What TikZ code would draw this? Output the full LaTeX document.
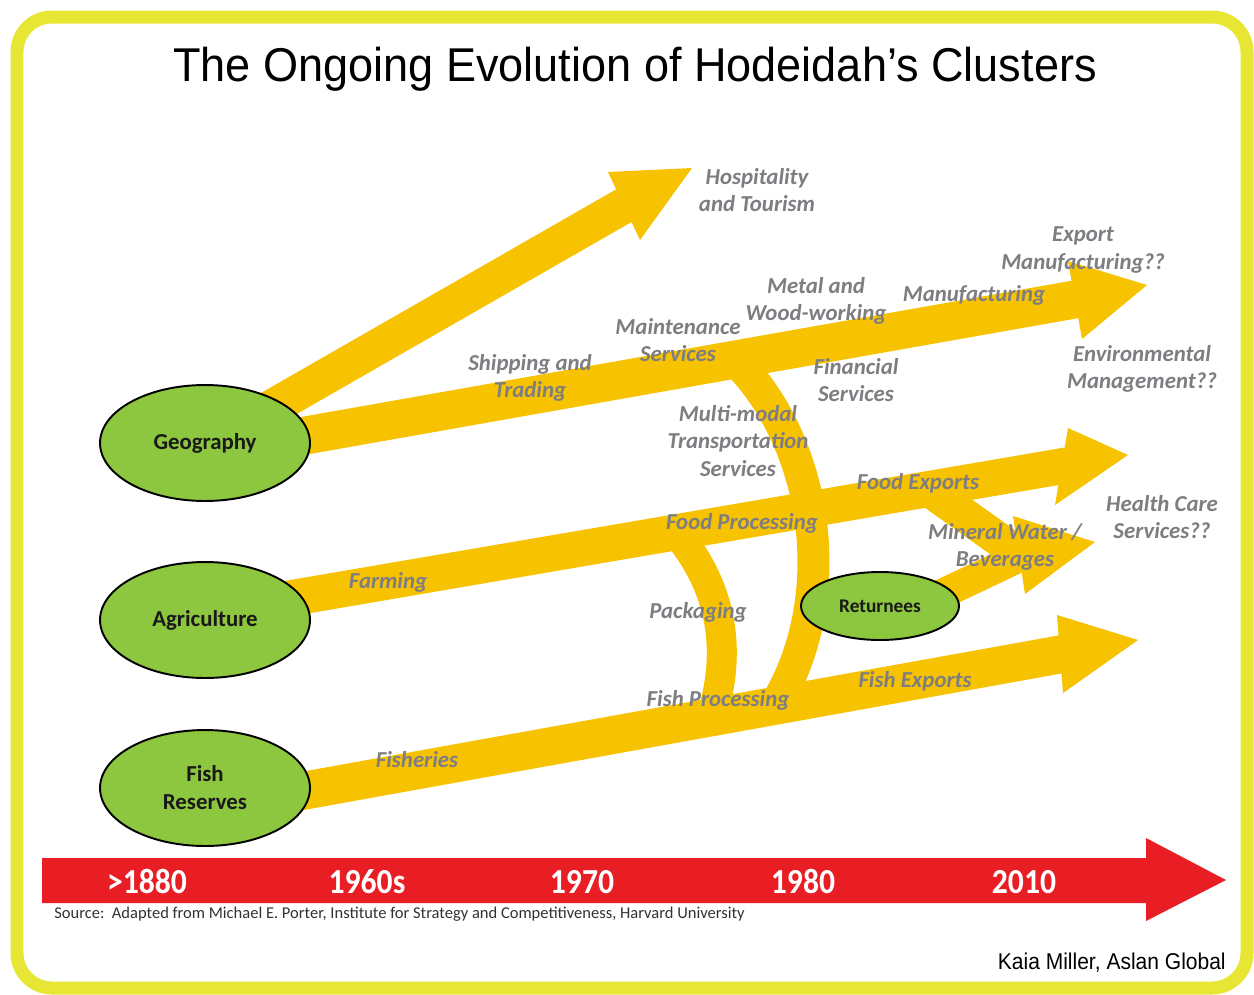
\documentclass[tikz,border=0pt]{standalone}
\usepackage{fontspec}
\setmainfont{Liberation Sans}
\newfontfamily\carl{Carlito}
\usetikzlibrary{shapes.geometric}
\definecolor{framey}{RGB}{232,230,52}
\definecolor{arrowyel}{RGB}{247,194,0}
\definecolor{blobgreen}{RGB}{141,198,63}
\definecolor{labgray}{RGB}{125,125,130}
\definecolor{tlred}{RGB}{232,30,36}
\definecolor{srcgray}{RGB}{50,50,50}
\tikzset{
  lab/.style={font=\carl\bfseries\itshape\fontsize{13}{15.6}\selectfont, text=labgray, align=center, inner sep=0pt},
  blob/.style={ellipse, draw=black, line width=1.1pt, fill=blobgreen, minimum width=4.2cm, minimum height=2.32cm, inner sep=0pt, align=center, text=black!90, font=\carl\bfseries\fontsize{13}{16}\selectfont},
  shaft/.style={draw=arrowyel, line cap=butt},
  headfill/.style={fill=arrowyel},
  year/.style={text=white, xscale=0.9, anchor=base, font=\carl\bfseries\fontsize{20}{24}\selectfont, inner sep=0pt}
}
\begin{document}
\begin{tikzpicture}[x=0.02cm,y=-0.02cm]
\useasboundingbox (0,0) rectangle (1254,994);
\fill[white] (0,0) rectangle (1254,994);
\draw[framey, line width=0.26cm, rounded corners=0.7cm] (17,17) rectangle (1247,988);

% title
\node[font=\fontsize{27}{32}\selectfont, xscale=0.95, inner sep=0pt] (title) at (635,69) {The Ongoing Evolution of Hodeidah’s Clusters};

% ---------- coordinates ----------
\coordinate (hs) at (250,420); \coordinate (hb) at (632,201);
\coordinate (ht) at (692,168); \coordinate (h1) at (608,172); \coordinate (h2) at (640,240);

\coordinate (es) at (280,440); \coordinate (eb) at (1083,298);
\coordinate (et) at (1147,285); \coordinate (e1) at (1068,261); \coordinate (e2) at (1082,339);

\coordinate (fs) at (280,600); \coordinate (fb) at (1069,465);
\coordinate (ft) at (1128,455); \coordinate (f1) at (1068,428); \coordinate (f2) at (1055,505);

\coordinate (ss) at (280,795); \coordinate (sb) at (1068,653);
\coordinate (st) at (1138,640); \coordinate (s1) at (1057,615); \coordinate (s2) at (1063,693);

\coordinate (mu) at (925,487); \coordinate (ml) at (925,602); \coordinate (mb) at (1022,556);
\coordinate (mt) at (1095,542); \coordinate (m1) at (1013,516); \coordinate (m2) at (1025,594);

\coordinate (mm0) at (735,360); \coordinate (mm1) at (775,705);
\coordinate (pk0) at (678,535); \coordinate (pk1) at (712,715);

% ---------- yellow arrows ----------
\draw[shaft, line width=0.72cm] (hs) -- (hb);
\fill[headfill] (ht) -- (h1) -- (h2) -- cycle;

\draw[shaft, line width=0.76cm] (es) -- (eb);
\fill[headfill] (et) -- (e1) -- (e2) -- cycle;

\draw[shaft, line width=0.72cm] (fs) -- (fb);
\fill[headfill] (ft) -- (f1) -- (f2) -- cycle;

\draw[shaft, line width=0.76cm] (ss) -- (sb);
\fill[headfill] (st) -- (s1) -- (s2) -- cycle;

\draw[shaft, line width=0.64cm] (mm0) .. controls (820,445) and (840,600) .. (mm1);
\draw[shaft, line width=0.6cm] (pk0) .. controls (715,580) and (735,640) .. (pk1);

\draw[shaft, line width=0.68cm] (mu) -- (mb);
\draw[shaft, line width=0.6cm] (ml) -- (mb);
\fill[headfill] (mt) -- (m1) -- (m2) -- cycle;

% ---------- ellipses ----------
\node[blob] (geo) at (205,443) {Geography};
\node[blob] (agr) at (205,620) {Agriculture};
\node[blob] (fish) at (205,788) {Fish\\Reserves};
\node[blob, minimum width=3.16cm, minimum height=1.36cm, font=\carl\bfseries\fontsize{11}{13}\selectfont] (ret) at (880,606) {Returnees};

% ---------- labels ----------
\node[lab] (hosp) at (757,190) {Hospitality\\and Tourism};
\node[lab] (expm) at (1083,250) {Export\\Manufacturing??};
\node[lab] (metal) at (816,301) {Metal and\\Wood-working};
\node[lab] (manu) at (974,295) {Manufacturing};
\node[lab] (maint) at (678,340) {Maintenance\\Services};
\node[lab] (ship) at (530,378) {Shipping and\\Trading};
\node[lab] (fin) at (856,380) {Financial\\Services};
\node[lab] (env) at (1142,369) {Environmental\\Management??};
\node[lab] (multi) at (738,441) {Multi-modal\\Transportation\\Services};
\node[lab] (fexp) at (918,483) {Food Exports};
\node[lab] (fproc) at (742,523) {Food Processing};
\node[lab] (health) at (1162,517) {Health Care\\Services??};
\node[lab] (mineral) at (1005,547) {Mineral Water /\\Beverages};
\node[lab] (farm) at (388,582) {Farming};
\node[lab] (pack) at (698,612) {Packaging};
\node[lab] (fishexp) at (915,681) {Fish Exports};
\node[lab] (fishproc) at (718,700) {Fish Processing};
\node[lab] (fisheries) at (417,760) {Fisheries};

% ---------- timeline ----------
\fill[tlred] (42,858) -- (1146,858) -- (1146,838) -- (1226,880) -- (1146,921) -- (1146,903) -- (42,903) -- cycle;
\node[year] (y1) at (147,893) {>1880};
\node[year] (y2) at (367,893) {1960s};
\node[year] (y3) at (582,893) {1970};
\node[year] (y4) at (803,893) {1980};
\node[year] (y5) at (1024,893) {2010};

\node[anchor=west, inner sep=0pt, text=srcgray, font=\carl\fontsize{9.4}{11}\selectfont] (src) at (54,914) {Source:\ \ Adapted from Michael E. Porter, Institute for Strategy and Competitiveness, Harvard University};

\node[anchor=east, inner sep=0pt, xscale=0.92, font=\fontsize{13}{15}\selectfont] (credit) at (1226,963) {Kaia Miller, Aslan Global};
\end{tikzpicture}
\end{document}
